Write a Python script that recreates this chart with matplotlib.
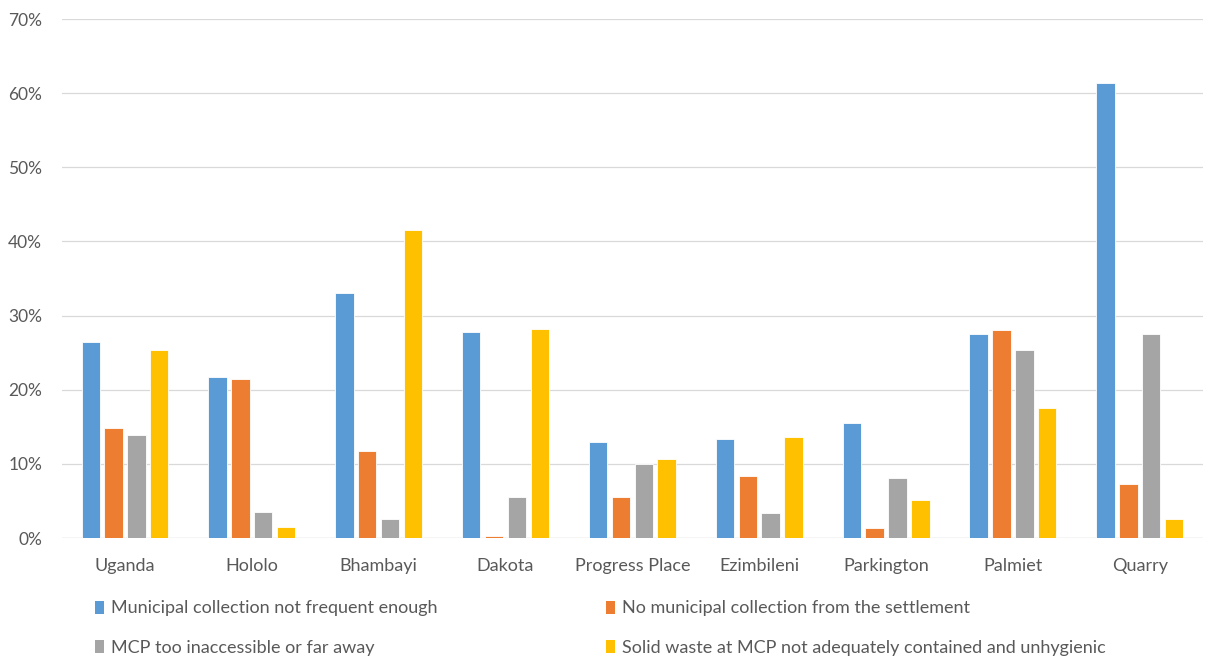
import numpy as np
import matplotlib.pyplot as plt
from matplotlib.patches import Patch
from matplotlib.ticker import PercentFormatter

plt.rcParams['font.family'] = ['Lato', 'DejaVu Sans']

# settlements and the share of respondents per problem (%)
settlements = ["Uganda", "Hololo", "Bhambayi", "Dakota", "Progress Place",
               "Ezimbileni", "Parkington", "Palmiet", "Quarry"]
not_frequent = [26.5, 21.7, 33.0, 27.8, 13.0, 13.3, 15.5, 27.5, 61.4]
no_collection = [14.9, 21.5, 11.8, 0.3, 5.5, 8.4, 1.3, 28.0, 7.3]
mcp_far = [13.9, 3.5, 2.6, 5.6, 10.0, 3.4, 8.1, 25.3, 27.5]
mcp_unhygienic = [25.4, 1.45, 41.6, 28.2, 10.7, 13.7, 5.2, 17.5, 2.6]

series = [
    ("Municipal collection not frequent enough", not_frequent, "#5B9BD5"),
    ("No municipal collection from the settlement", no_collection, "#ED7D31"),
    ("MCP too inaccessible or far away", mcp_far, "#A5A5A5"),
    ("Solid waste at MCP not adequately contained and unhygienic", mcp_unhygienic, "#FFC000"),
]

txt = "#595959"
fig = plt.figure(figsize=(12.08, 6.57), dpi=100)
ax = fig.add_axes([0.051, 0.181, 0.945, 0.79])

x = np.arange(len(settlements))
step = 0.18
width = 0.145
for i, (name, vals, col) in enumerate(series):
    ax.bar(x + (i - 1.5) * step, vals, width, color=col,
           edgecolor="white", linewidth=0.6, zorder=3)

ax.set_xlim(-0.5, len(settlements) - 0.5)
ax.set_ylim(0, 70)
ax.set_yticks(range(0, 71, 10))
ax.yaxis.set_major_formatter(PercentFormatter(decimals=0))
ax.set_xticks(x)
ax.set_xticklabels(settlements)
ax.grid(axis="y", color="#D9D9D9", linewidth=0.9, zorder=0)
for s in ax.spines.values():
    s.set_visible(False)
ax.axhline(0, color="#D9D9D9", linewidth=0.9, zorder=1)
ax.tick_params(length=0, labelsize=13, colors=txt)
ax.tick_params(axis="x", pad=14)
ax.tick_params(axis="y", labelsize=12.5, pad=14)

# two legend columns, each with two rows
def add_legend(items, xpos):
    handles = [Patch(facecolor=c, edgecolor="none") for _, _, c in items]
    labels = [n for n, _, _ in items]
    leg = fig.legend(handles, labels, loc="upper left",
                     bbox_to_anchor=(xpos, 0.086), frameon=False,
                     fontsize=13, labelcolor=txt, handlelength=0.5,
                     handleheight=0.75, handletextpad=0.35, labelspacing=1.29,
                     borderaxespad=0, borderpad=0)
    return leg

add_legend([series[0], series[2]], 0.079)
add_legend([series[1], series[3]], 0.502)

fig.savefig("out.png", dpi=100)
